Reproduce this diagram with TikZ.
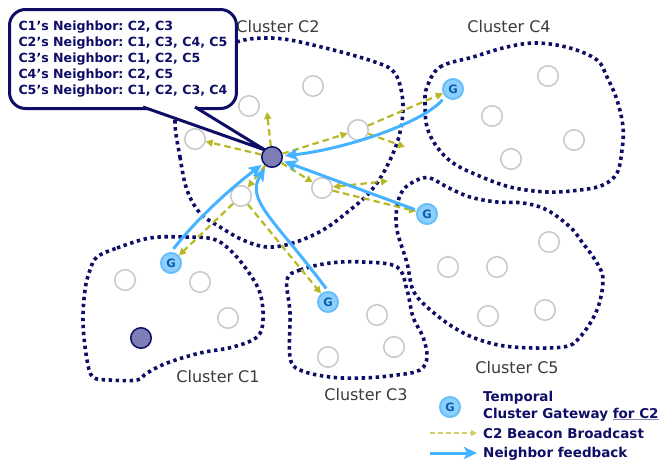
\documentclass[tikz,border=0pt]{standalone}
\usepackage{fontspec}
\setmainfont{DejaVu Sans}
\usetikzlibrary{arrows.meta,calc}

\definecolor{navy}{HTML}{0E0E66}
\definecolor{olive}{HTML}{B8B826}
\definecolor{paleolive}{HTML}{CFCF6A}
\definecolor{skyblue}{HTML}{45B3FF}
\definecolor{gfill}{HTML}{8DD0FF}
\definecolor{gdraw}{HTML}{66BFFA}
\definecolor{gtext}{HTML}{0A5FA8}
\definecolor{nodegray}{HTML}{C8C8C8}
\definecolor{hubfill}{HTML}{7E7EB6}
\definecolor{labelgray}{HTML}{3A3A3A}
\definecolor{ulcolor}{HTML}{8A8AB8}

\tikzset{
  cluster/.style={draw=navy, line width=3.6pt, dash pattern=on 3.4pt off 3.6pt},
  member/.style={circle, draw=nodegray, line width=1.5pt, fill=white, minimum size=20.5pt, inner sep=0pt},
  hub/.style={circle, draw=navy, line width=1.5pt, fill=hubfill, minimum size=20.5pt, inner sep=0pt},
  gate/.style={circle, draw=gdraw, line width=2pt, fill=gfill, minimum size=20pt, inner sep=0pt,
    font=\bfseries\fontsize{11.5}{11.5}\selectfont, text=gtext},
  beacon/.style={draw=olive, line width=2.2pt, dash pattern=on 6.5pt off 4pt,
    -{Triangle[length=7pt,width=7pt]}},
  feedback/.style={draw=skyblue, line width=3pt, -{Stealth[length=13pt,width=12pt,inset=3pt]}},
  clabel/.style={font=\fontsize{16}{16}\selectfont, text=labelgray, inner sep=0pt, anchor=base},
  legendtext/.style={font=\bfseries\fontsize{13.5}{13.5}\selectfont, text=navy, inner sep=0pt, anchor=base west},
  callout/.style={draw=navy, line width=3pt, fill=white, rounded corners=16pt}
}

\begin{document}
\begin{tikzpicture}[x=1pt, y=-1pt]
\frenchspacing
\useasboundingbox (0,0) rectangle (660,463);

% cluster outlines
\draw[cluster] plot[smooth cycle, tension=0.6] coordinates {
  (175,120) (180,157) (187,190) (200,213) (220,227) (243,240) (267,247) (293,243)
  (323,230) (350,210) (370,192) (385,170) (398,140) (403,110) (400,85) (392,70)
  (375,62) (345,53) (317,46) (290,40) (267,38) (240,41) (205,55) (182,85)};
\draw[cluster] plot[smooth cycle, tension=0.6] coordinates {
  (427,87) (440,67) (473,57) (507,47) (537,43) (570,48) (597,60) (607,77) (617,100)
  (623,127) (622,150) (617,173) (603,185) (580,190) (547,192) (510,187) (477,175)
  (453,163) (437,147) (427,127) (425,103)};
\draw[cluster] plot[smooth cycle, tension=0.6] coordinates {
  (397,230) (397,207) (403,190) (417,180) (430,178) (447,187) (470,197) (497,202)
  (523,203) (547,210) (570,227) (582,242) (597,263) (603,280) (597,310) (580,337)
  (563,347) (513,347) (480,340) (453,327) (427,307) (413,290) (407,263)};
\draw[cluster] plot[smooth cycle, tension=0.6] coordinates {
  (287,280) (300,270) (330,263) (363,262) (397,267) (407,290) (413,317) (423,337)
  (427,357) (420,370) (397,375) (363,378) (330,377) (300,370) (290,357) (290,313)};
\draw[cluster] plot[smooth cycle, tension=0.6] coordinates {
  (97,257) (117,248) (150,238) (183,237) (213,239) (230,250) (247,270) (260,293)
  (263,320) (257,337) (233,347) (200,353) (167,363) (147,373) (137,380) (110,380)
  (93,377) (87,360) (83,323) (85,290) (90,270)};

% cluster names
\node[clabel] (lc2) at (278,32) {Cluster C2};
\node[clabel] (lc4) at (509,32) {Cluster C4};
\node[clabel] (lc1) at (218,382) {Cluster C1};
\node[clabel] (lc3) at (366,400) {Cluster C3};
\node[clabel] (lc5) at (517,373) {Cluster C5};

% sensor nodes
\node[member] (m21) at (313,86) {};
\node[member] (m22) at (249,106) {};
\node[member] (m23) at (195,139) {};
\node[member] (m24) at (358,130) {};
\node[member] (m25) at (322,188) {};
\node[member] (m26) at (241,196) {};
\node[member] (m41) at (548,76) {};
\node[member] (m42) at (492,116) {};
\node[member] (m43) at (574,140) {};
\node[member] (m44) at (511,159) {};
\node[member] (m51) at (549,242) {};
\node[member] (m52) at (448,267) {};
\node[member] (m53) at (497,267) {};
\node[member] (m54) at (488,316) {};
\node[member] (m55) at (545,310) {};
\node[member] (m31) at (377,315) {};
\node[member] (m32) at (394,347) {};
\node[member] (m33) at (328,357) {};
\node[member] (m11) at (125,280) {};
\node[member] (m12) at (200,282) {};
\node[member] (m13) at (228,318) {};
\node[hub] (d1) at (141,338) {};
\node[gate] (g4) at (453,89) {G};
\node[gate] (g5) at (427,214) {G};
\node[gate] (g3) at (328,302) {G};
\node[gate] (g1) at (171,263) {G};

% callout with the neighbor table, its tail pointing at the C2 head
\coordinate (h) at (272,157);
\coordinate (tip) at ($(h)+(-7,-7)$);
\node[callout, anchor=north west, minimum width=225pt, minimum height=99pt,
      inner xsep=9pt, align=left, text=navy,
      font=\bfseries\fontsize{12.6}{16}\selectfont] (bubble) at (8,8)
  {C1’s Neighbor: C2, C3\\
   C2’s Neighbor: C1, C3, C4, C5\\
   C3’s Neighbor: C1, C2, C5\\
   C4’s Neighbor: C2, C5\\
   C5’s Neighbor: C1, C2, C3, C4};
\coordinate (tl) at (143,107);
\coordinate (tr) at (195,107);
\fill[white] (134.5,104) -- (tip) -- (190,104) -- cycle;
\draw[navy, line width=3pt] (tl) -- (tip) -- (tr);

\node[hub] (hub) at (h) {};

% beacon broadcast from the C2 head
\coordinate (up) at (267,112);
\coordinate (e1) at (405,147);
\coordinate (e2) at (388,181);
\draw[beacon] (hub) -- (m23);
\draw[beacon] (hub) -- (up);
\draw[beacon] (hub) -- (m24);
\draw[beacon] (hub) -- (m25);
\draw[beacon] (hub) -- (m26);
\draw[beacon] (m24) -- (g4);
\draw[beacon] (m24) -- (e1);
\draw[beacon, {Triangle[length=7pt,width=7pt]}-{Triangle[length=7pt,width=7pt]}] (m25) -- (e2);
\draw[beacon] (m25) -- (g5);
\draw[beacon] (m26) -- (g1);
\draw[beacon] (m26) -- (g3);

% neighbor feedback from the gateways
\draw[feedback, shorten <=4pt, shorten >=2pt] (g4.south west) .. controls (420,125) and (340,150) .. (hub);
\draw[feedback, shorten <=2pt, shorten >=2pt] (g5) -- (hub);
\draw[feedback, shorten <=4pt, shorten >=2pt] (g1.north) .. controls (200,215) and (235,185) .. (hub);
\draw[feedback, shorten <=3pt, shorten >=2pt] (g3.north) .. controls (275,220) and (245,200) .. (hub);

% legend
\node[gate] (lg) at (450,407) {G};
\node[legendtext] (lt1) at (483,401) {Temporal};
\node[legendtext] (lt2) at (483,418) {Cluster Gateway \textcolor{ulcolor}{\underline{\textcolor{navy}{for C2}}}};
\coordinate (lb1) at (430,433);
\coordinate (lb2) at (477,433);
\draw[beacon, draw=paleolive, line width=2pt, dash pattern=on 5pt off 3pt,
      -{Triangle[length=6pt,width=6pt]}] (lb1) -- (lb2);
\node[legendtext] (lt3) at (483,438) {C2 Beacon Broadcast};
\coordinate (lf1) at (430,453);
\coordinate (lf2) at (477,453);
\draw[feedback] (lf1) -- (lf2);
\node[legendtext] (lt4) at (483,457) {Neighbor feedback};
\end{tikzpicture}
\end{document}
